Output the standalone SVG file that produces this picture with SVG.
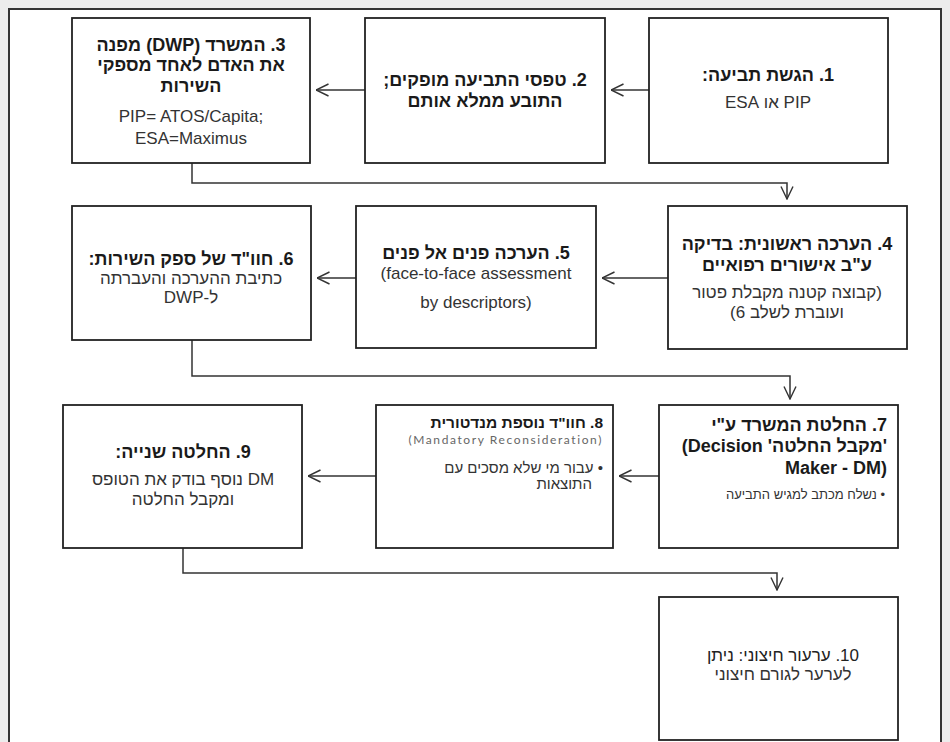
<svg xmlns="http://www.w3.org/2000/svg" width="950" height="742" viewBox="0 0 950 742">
<style>
.box{fill:#fff;stroke:#222;stroke-width:1.8}
.con{fill:none;stroke:#333;stroke-width:1.5}
text{font-family:"Liberation Sans","DejaVu Sans",sans-serif;fill:#1a1a1a}
.b{font-weight:bold;font-size:18px}
.r{font-size:17px;fill:#333}
.c{text-anchor:middle}
.s{font-size:13px;fill:#333}
</style>
<defs>
<marker id="arr" viewBox="0 0 14 14" refX="13.5" refY="7" markerWidth="14" markerHeight="14" markerUnits="userSpaceOnUse" orient="auto">
<path d="M1,1 L13.5,7 L1,13" fill="none" stroke="#333" stroke-width="1.4"/>
</marker>
</defs>
<rect x="0" y="0" width="950" height="742" fill="#ececec"/>
<rect x="9" y="9" width="932" height="745" fill="#fff" stroke="#333" stroke-width="2"/>

<g id="connectors">
<path class="con" d="M649,90 H611" marker-end="url(#arr)"/>
<path class="con" d="M365,90 H316" marker-end="url(#arr)"/>
<path class="con" d="M192,163 V183 H787 V199" marker-end="url(#arr)"/>
<path class="con" d="M668,278 H602" marker-end="url(#arr)"/>
<path class="con" d="M356,278 H317" marker-end="url(#arr)"/>
<path class="con" d="M192,340 V376 H790 V399" marker-end="url(#arr)"/>
<path class="con" d="M659,476 H619" marker-end="url(#arr)"/>
<path class="con" d="M376,476 H308" marker-end="url(#arr)"/>
<path class="con" d="M183,548 V573 H777 V590" marker-end="url(#arr)"/>
</g>

<g id="n1">
<rect class="box" x="649" y="18" width="239" height="145"/>
<text class="b c" x="768" y="81" direction="rtl">1. הגשת תביעה:</text>
<text class="r c" x="768" y="108" direction="rtl">PIP  או ESA</text>
</g>

<g id="n2">
<rect class="box" x="365" y="18" width="240" height="145"/>
<text class="b c" x="485" y="86" direction="rtl">2. טפסי התביעה מופקים;</text>
<text class="b c" x="485" y="107" direction="rtl">התובע ממלא אותם</text>
</g>

<g id="n3">
<rect class="box" x="72" y="18" width="238" height="145"/>
<text class="b c" x="191" y="51" direction="rtl">3. המשרד (DWP) מפנה</text>
<text class="b c" x="191" y="71" direction="rtl">את האדם לאחד מספקי</text>
<text class="b c" x="191" y="92" direction="rtl">השירות</text>
<text class="r c" x="191" y="122">PIP= ATOS/Capita;</text>
<text class="r c" x="191" y="144">ESA=Maximus</text>
</g>

<g id="n4">
<rect class="box" x="668" y="206" width="239" height="143"/>
<text class="b c" x="787" y="250" direction="rtl">4. הערכה ראשונית: בדיקה</text>
<text class="b c" x="787" y="271" direction="rtl">ע"ב אישורים רפואיים</text>
<text class="r c" x="787" y="298" direction="rtl">(קבוצה קטנה מקבלת פטור</text>
<text class="r c" x="787" y="318" direction="rtl">ועוברת לשלב 6)</text>
</g>

<g id="n5">
<rect class="box" x="356" y="206" width="240" height="142"/>
<text class="b c" x="476" y="259" direction="rtl">5. הערכה פנים אל פנים</text>
<text class="r c" x="476" y="279">(face-to-face assessment</text>
<text class="r c" x="476" y="308">by descriptors)</text>
</g>

<g id="n6">
<rect class="box" x="72" y="206" width="239" height="134"/>
<text class="b c" x="191" y="265" direction="rtl">6. חוו"ד של ספק השירות:</text>
<text class="r c" x="191" y="284" direction="rtl">כתיבת ההערכה  והעברתה</text>
<text class="r c" x="191" y="303" direction="rtl">ל-DWP</text>
</g>

<g id="n7">
<rect class="box" x="659" y="405" width="239" height="143"/>
<text class="b" x="887" y="431" direction="rtl">7. החלטת המשרד ע"י</text>
<text class="b" x="887" y="452" direction="rtl">'מקבל החלטה'  &#x2066;(Decision&#x2069;</text>
<text class="b" x="887" y="474" direction="rtl">&#x2066;Maker - DM)&#x2069;</text>
<text class="s" x="885" y="499" direction="rtl">• נשלח מכתב למגיש התביעה</text>
</g>

<g id="n8">
<rect class="box" x="376" y="405" width="237" height="143"/>
<text class="b" x="603" y="428" direction="rtl" style="font-size:15.5px">8. חוו"ד נוספת מנדטורית</text>
<text x="603" y="444" text-anchor="end" style="font-family:Lato,'Liberation Sans',sans-serif;font-size:12px;letter-spacing:1.6px;fill:#666">(Mandatory Reconsideration)</text>
<text class="r" x="603" y="473" direction="rtl" style="font-size:15px">• עבור מי שלא מסכים עם</text>
<text class="r" x="592" y="489" direction="rtl" style="font-size:15px">התוצאות</text>
</g>

<g id="n9">
<rect class="box" x="63" y="405" width="239" height="143"/>
<text class="b c" x="183" y="458" direction="rtl">9. החלטה שנייה:</text>
<text class="r c" x="183" y="485" direction="rtl">DM נוסף בודק את הטופס</text>
<text class="r c" x="183" y="505" direction="rtl">ומקבל החלטה</text>
</g>

<g id="n10">
<rect class="box" x="659" y="597" width="239" height="143"/>
<text class="c" x="783" y="661" direction="rtl" style="font-size:17px;fill:#222">10. ערעור חיצוני: ניתן</text>
<text class="r c" x="783" y="680" direction="rtl">לערער לגורם חיצוני</text>
</g>
</svg>
